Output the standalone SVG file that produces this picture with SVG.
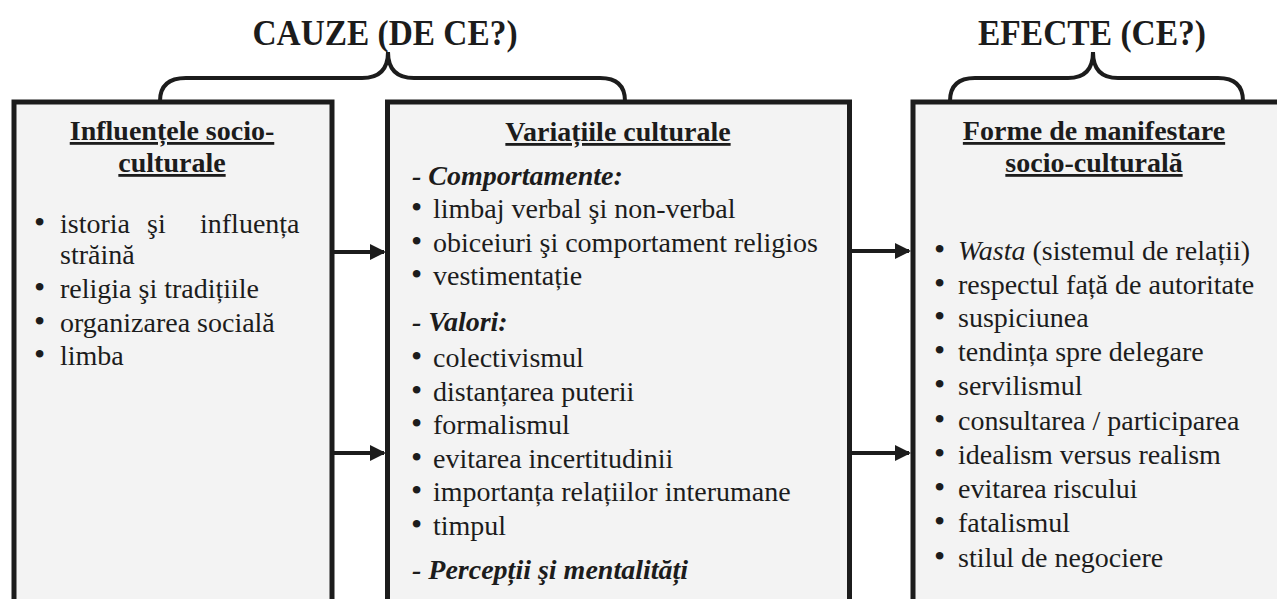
<svg xmlns="http://www.w3.org/2000/svg" width="1277" height="599" viewBox="0 0 1277 599">
  <style>
    .box { fill: #f3f3f3; stroke: #1c1c1c; stroke-width: 5; }
    .brace { fill: none; stroke: #1c1c1c; stroke-width: 4; }
    .conn { stroke: #1c1c1c; stroke-width: 4; fill: none; }
    .head { font-size: 35px; font-weight: bold; fill: #1c1c1c; }
    .title { font-size: 28px; font-weight: bold; text-decoration: underline; fill: #1c1c1c; }
    .item { font-size: 28px; fill: #1c1c1c; }
    .b { font-size: 32px; }
    .sub { font-size: 28px; font-weight: bold; font-style: italic; fill: #1c1c1c; }
  </style>
  <defs>
    <marker id="arr" viewBox="0 0 16 16" refX="14" refY="8" markerWidth="16" markerHeight="16" markerUnits="userSpaceOnUse" orient="auto">
      <path d="M0,0 L16,8 L0,16 z" fill="#1c1c1c"/>
    </marker>
  </defs>
  <rect width="1277" height="599" fill="#ffffff"/>

  <g id="header-cauze">
    <text class="head" font-family="Liberation Serif, serif" x="385" y="45" text-anchor="middle" textLength="265" lengthAdjust="spacingAndGlyphs">CAUZE (DE CE?)</text>
    <path class="brace" d="M160,101 Q160,78 186,78 L362,78 Q388,78 388,52 Q388,78 414,78 L600,78 Q625,78 625,101"/>
  </g>

  <g id="header-efecte">
    <text class="head" font-family="Liberation Serif, serif" x="1092" y="45" text-anchor="middle" textLength="228" lengthAdjust="spacingAndGlyphs">EFECTE (CE?)</text>
    <path class="brace" d="M950,101 Q950,78 975,78 L1068,78 Q1093,78 1093,52 Q1093,78 1118,78 L1218,78 Q1243,78 1243,101"/>
  </g>

  <g id="node-influente" font-family="Liberation Serif, serif">
    <rect class="box" x="14" y="102" width="318" height="530"/>
    <text class="title" x="172" y="140" text-anchor="middle">Influențele socio-</text>
    <text class="title" x="172" y="172" text-anchor="middle">culturale</text>
    <text class="item" y="233"><tspan class="b" x="34">•</tspan><tspan x="60">istoria</tspan><tspan x="147">şi</tspan><tspan x="200">influența</tspan></text>
    <text class="item" x="60" y="264">străină</text>
    <text class="item" y="298"><tspan class="b" x="34">•</tspan><tspan x="60">religia şi tradițiile</tspan></text>
    <text class="item" y="332"><tspan class="b" x="34">•</tspan><tspan x="60">organizarea socială</tspan></text>
    <text class="item" y="365"><tspan class="b" x="34">•</tspan><tspan x="60">limba</tspan></text>
  </g>

  <g id="node-variatii" font-family="Liberation Serif, serif">
    <rect class="box" x="387.5" y="102" width="462" height="530"/>
    <text class="title" x="618" y="141" text-anchor="middle">Variațiile culturale</text>
    <text class="sub" x="412" y="185">- Comportamente:</text>
    <text class="item" y="218"><tspan class="b" x="411">•</tspan><tspan x="433">limbaj verbal şi non-verbal</tspan></text>
    <text class="item" y="252"><tspan class="b" x="411">•</tspan><tspan x="433">obiceiuri şi comportament religios</tspan></text>
    <text class="item" y="285"><tspan class="b" x="411">•</tspan><tspan x="433">vestimentație</tspan></text>
    <text class="sub" x="412" y="331">- Valori:</text>
    <text class="item" y="367"><tspan class="b" x="411">•</tspan><tspan x="433">colectivismul</tspan></text>
    <text class="item" y="401"><tspan class="b" x="411">•</tspan><tspan x="433">distanțarea puterii</tspan></text>
    <text class="item" y="434"><tspan class="b" x="411">•</tspan><tspan x="433">formalismul</tspan></text>
    <text class="item" y="468"><tspan class="b" x="411">•</tspan><tspan x="433">evitarea incertitudinii</tspan></text>
    <text class="item" y="501"><tspan class="b" x="411">•</tspan><tspan x="433">importanța relațiilor interumane</tspan></text>
    <text class="item" y="535"><tspan class="b" x="411">•</tspan><tspan x="433">timpul</tspan></text>
    <text class="sub" x="412" y="579">- Percepții şi mentalități</text>
  </g>

  <g id="node-forme" font-family="Liberation Serif, serif">
    <rect class="box" x="913" y="102" width="380" height="530"/>
    <text class="title" x="1094" y="140" text-anchor="middle">Forme de manifestare</text>
    <text class="title" x="1094" y="172" text-anchor="middle">socio-culturală</text>
    <text class="item" y="260"><tspan class="b" x="934">•</tspan><tspan x="958" font-style="italic">Wasta</tspan><tspan> (sistemul de relații)</tspan></text>
    <text class="item" y="294"><tspan class="b" x="934">•</tspan><tspan x="958">respectul față de autoritate</tspan></text>
    <text class="item" y="327"><tspan class="b" x="934">•</tspan><tspan x="958">suspiciunea</tspan></text>
    <text class="item" y="361"><tspan class="b" x="934">•</tspan><tspan x="958">tendința spre delegare</tspan></text>
    <text class="item" y="395"><tspan class="b" x="934">•</tspan><tspan x="958">servilismul</tspan></text>
    <text class="item" y="430"><tspan class="b" x="934">•</tspan><tspan x="958">consultarea / participarea</tspan></text>
    <text class="item" y="464"><tspan class="b" x="934">•</tspan><tspan x="958">idealism versus realism</tspan></text>
    <text class="item" y="498"><tspan class="b" x="934">•</tspan><tspan x="958">evitarea riscului</tspan></text>
    <text class="item" y="532"><tspan class="b" x="934">•</tspan><tspan x="958">fatalismul</tspan></text>
    <text class="item" y="567"><tspan class="b" x="934">•</tspan><tspan x="958">stilul de negociere</tspan></text>
  </g>

  <g id="connectors">
    <line class="conn" x1="334" y1="252" x2="384" y2="252" marker-end="url(#arr)"/>
    <line class="conn" x1="334" y1="453" x2="384" y2="453" marker-end="url(#arr)"/>
    <line class="conn" x1="852" y1="251" x2="909" y2="251" marker-end="url(#arr)"/>
    <line class="conn" x1="852" y1="453" x2="909" y2="453" marker-end="url(#arr)"/>
  </g>
</svg>
